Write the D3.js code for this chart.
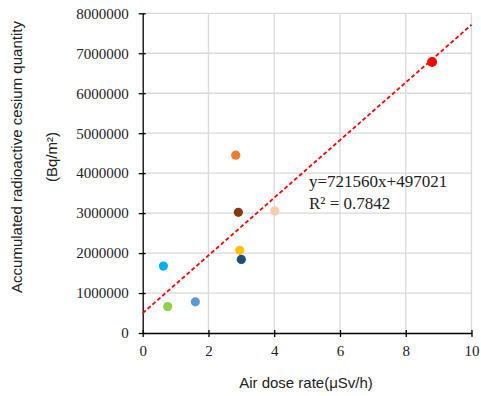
<!DOCTYPE html>
<html><head><meta charset="utf-8">
<script src="https://cdn.jsdelivr.net/npm/d3@7"></script>
<style>body{margin:0;background:#fff}</style>
</head><body>
<svg id="c" width="481" height="396"></svg>
<script>
const xValues = [2.83, 2.91, 4.02, 2.95, 3.0, 0.63, 0.76, 1.6, 8.8];
const yValues = [4450000, 3020000, 3050000, 2070000, 1840000, 1675000, 660000, 780000, 6780000];
const pointColors = ["#ED7D31", "#843C0C", "#F8CBAD", "#FFC000", "#1F4E79", "#00B0F0", "#92D050", "#5B9BD5", "#FF0000"];
const xTicks = [0, 2, 4, 6, 8, 10];
const yTicks = [0, 1000000, 2000000, 3000000, 4000000, 5000000, 6000000, 7000000, 8000000];
const slope = 721560, intercept = 497021;
const eqText = "y=721560x+497021";
const r2Text = "R² = 0.7842";

const svg = d3.select("#c");
const x = d3.scaleLinear().domain([0, 10]).range([142.7, 471.5]);
const y = d3.scaleLinear().domain([0, 8000000]).range([333, 13.3]);

// gridlines
svg.append("g").selectAll("line").data(yTicks.slice(1)).join("line")
  .attr("x1", x(0)).attr("x2", x(10)).attr("y1", d => y(d)).attr("y2", d => y(d))
  .attr("stroke", "#d9d9d9").attr("stroke-width", 1.3);
svg.append("g").selectAll("line").data(xTicks.slice(1)).join("line")
  .attr("y1", y(0)).attr("y2", y(8000000)).attr("x1", d => x(d)).attr("x2", d => x(d))
  .attr("stroke", "#d9d9d9").attr("stroke-width", 1.3);

// axes
const xAxis = svg.append("g").attr("transform", `translate(0,${y(0)})`)
  .call(d3.axisBottom(x).tickValues(xTicks).tickFormat(d3.format("d")).tickSizeInner(4).tickSizeOuter(0));
const yAxis = svg.append("g").attr("transform", `translate(${x(0)},0)`)
  .call(d3.axisLeft(y).tickValues(yTicks).tickFormat(d3.format("d")).tickSizeInner(4).tickSizeOuter(0));
[xAxis, yAxis].forEach(a => {
  a.select(".domain").attr("stroke", "#000").attr("stroke-width", 1.3);
  a.selectAll(".tick line").attr("stroke", "#000").attr("stroke-width", 1.3);
  a.selectAll(".tick text").attr("fill", "#222").style("font-family", "'Liberation Serif','Times New Roman',serif").style("font-size", "15px");
});
xAxis.selectAll(".tick line").attr("y1", -3).attr("y2", 4);
xAxis.selectAll(".tick text").attr("dy", "0.71em").attr("y", 12);
yAxis.selectAll(".tick line").attr("x1", 3).attr("x2", -4);
yAxis.selectAll(".tick text").attr("x", -14);

// trendline
svg.append("line")
  .attr("x1", x(0)).attr("y1", y(intercept))
  .attr("x2", x(10)).attr("y2", y(slope * 10 + intercept))
  .attr("stroke", "#FF0000").attr("stroke-width", 1.8).attr("stroke-dasharray", "4,2.5");

// points
svg.append("g").selectAll("circle").data(xValues.map((v, i) => ({x: v, y: yValues[i], c: pointColors[i], i})))
  .join("circle")
  .attr("cx", d => x(d.x)).attr("cy", d => y(d.y))
  .attr("r", d => d.i === 8 ? 5 : 4.6)
  .attr("fill", d => d.c);

// equation
const serif = "'Liberation Serif','Times New Roman',serif";
svg.append("text").attr("x", 309).attr("y", 187).text(eqText)
  .style("font-family", serif).style("font-size", "17px").attr("fill", "#222");
svg.append("text").attr("x", 309).attr("y", 209).text(r2Text)
  .style("font-family", serif).style("font-size", "17px").attr("fill", "#222");

// axis titles
const sans = "'Liberation Sans',Arial,sans-serif";
svg.append("text").attr("x", 306).attr("y", 388).attr("text-anchor", "middle")
  .text("Air dose rate(μSv/h)").style("font-family", sans).style("font-size", "15px").attr("fill", "#222");
const yt = svg.append("text").attr("transform", "translate(22,157) rotate(-90)").attr("text-anchor", "middle")
  .style("font-family", sans).style("font-size", "15px").attr("fill", "#222");
yt.append("tspan").attr("x", 0).attr("y", 0).text("Accumulated radioactive cesium quantity");
yt.append("tspan").attr("x", 0).attr("y", 35).text("(Bq/m²)");
</script>
</body></html>
